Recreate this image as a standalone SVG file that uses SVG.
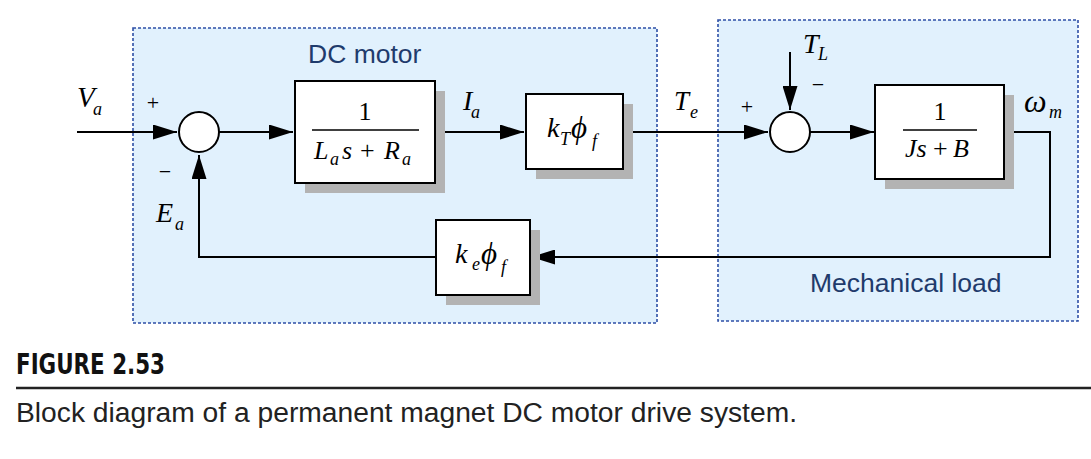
<svg xmlns="http://www.w3.org/2000/svg" width="1091" height="459" viewBox="0 0 1091 459">
<style>
.grp{fill:#e1f1fd;stroke:#2e4fa6;stroke-width:1.6;stroke-dasharray:3 2}
.grptxt{font-family:"Liberation Sans",Arial,sans-serif;font-size:26.5px;fill:#1f3b6c}
.blk{fill:#ffffff;stroke:#000;stroke-width:2}
.shd{fill:#b3b3b3}
.sum{fill:#ffffff;stroke:#000;stroke-width:2}
.ln{fill:none;stroke:#000;stroke-width:2}
.m{font-family:"Liberation Serif","Times New Roman",serif;font-style:italic;font-size:28px;fill:#000}
.s{font-family:"Liberation Serif","Times New Roman",serif;font-style:italic;font-size:18px;fill:#000}
.r{font-family:"Liberation Serif","Times New Roman",serif;font-size:26px;fill:#000}
.sg{font-family:"Liberation Serif","Times New Roman",serif;font-size:22px;fill:#000;text-anchor:middle}
.fr{stroke:#000;stroke-width:1.3}
</style>
<defs>
<marker id="ah" viewBox="0 0 24 15" refX="24" refY="7.5" markerWidth="24" markerHeight="15" markerUnits="userSpaceOnUse" orient="auto">
<path d="M0,0 L24,7.5 L0,15 Z" fill="#000"/>
</marker>
</defs>
<g id="dc-motor-group">
<rect class="grp" x="133" y="28" width="524" height="295"/>
<text class="grptxt" x="308" y="63">DC motor</text>
</g>
<g id="mech-load-group">
<rect class="grp" x="718" y="20" width="360" height="301"/>
<text class="grptxt" x="810" y="292">Mechanical load</text>
</g>
<g id="connectors">
<line class="ln" x1="77" y1="132" x2="177" y2="132" marker-end="url(#ah)"/>
<line class="ln" x1="219" y1="132" x2="293" y2="132" marker-end="url(#ah)"/>
<line class="ln" x1="435" y1="132" x2="524" y2="132" marker-end="url(#ah)"/>
<line class="ln" x1="623" y1="132" x2="768" y2="132" marker-end="url(#ah)"/>
<line class="ln" x1="810" y1="132" x2="874" y2="132" marker-end="url(#ah)"/>
<line class="ln" x1="790" y1="52" x2="790" y2="110" marker-end="url(#ah)"/>
<polyline class="ln" points="1004,132 1050,132 1050,257 531,257" marker-end="url(#ah)"/>
<polyline class="ln" points="436,257 199,257 199,155" marker-end="url(#ah)"/>
</g>
<g id="sum1">
<circle class="sum" cx="199" cy="132" r="20"/>
<text class="sg" x="153" y="110">+</text>
<text class="sg" x="165" y="179">−</text>
</g>
<g id="sum2">
<circle class="sum" cx="790" cy="132" r="20"/>
<text class="sg" x="747" y="114">+</text>
<text class="sg" x="818" y="92">−</text>
</g>
<g id="armature">
<rect class="shd" x="305" y="91" width="140" height="102"/>
<rect class="blk" x="295" y="81" width="140" height="102"/>
<text class="r" x="365" y="120" text-anchor="middle">1</text>
<line class="fr" x1="312" y1="130" x2="419" y2="130"/>
<text class="m" x="314" y="159" style="font-size:26px">L</text>
<text class="s" x="330" y="165">a</text>
<text class="m" x="342" y="159" style="font-size:26px">s</text>
<text class="r" x="360" y="159">+</text>
<text class="m" x="384" y="159" style="font-size:26px">R</text>
<text class="s" x="402" y="165">a</text>
</g>
<g id="torque-const">
<rect class="shd" x="536" y="104" width="97" height="75"/>
<rect class="blk" x="526" y="94" width="97" height="75"/>
<text class="m" x="547" y="137">k</text>
<text class="s" x="560" y="145">T</text>
<text class="m" x="571" y="138" style="font-size:31px">ϕ</text>
<text class="s" x="592" y="147">f</text>
</g>
<g id="mechanical">
<rect class="shd" x="885" y="95" width="129" height="94"/>
<rect class="blk" x="875" y="85" width="129" height="94"/>
<text class="r" x="940" y="120" text-anchor="middle">1</text>
<line class="fr" x1="903" y1="130" x2="977" y2="130"/>
<text class="m" x="905" y="157" style="font-size:26px">Js</text>
<text class="r" x="933" y="157">+</text>
<text class="m" x="953" y="157" style="font-size:26px">B</text>
</g>
<g id="backemf">
<rect class="shd" x="446" y="230" width="94" height="75"/>
<rect class="blk" x="436" y="220" width="94" height="75"/>
<text class="m" x="455" y="263">k</text>
<text class="s" x="472" y="270">e</text>
<text class="m" x="481" y="264" style="font-size:31px">ϕ</text>
<text class="s" x="501" y="273">f</text>
</g>
<g id="labels">
<text class="m" x="77" y="107" style="font-size:29px">V</text>
<text class="s" x="93" y="115">a</text>
<text class="m" x="156" y="222">E</text>
<text class="s" x="175" y="230">a</text>
<text class="m" x="463" y="110">I</text>
<text class="s" x="471" y="118">a</text>
<text class="m" x="674" y="110" style="font-size:27px">T</text>
<text class="s" x="690" y="118">e</text>
<text class="m" x="803" y="53">T</text>
<text class="s" x="818" y="60">L</text>
<text class="m" x="1024" y="112" style="font-size:32px">ω</text>
<text class="s" x="1049" y="118">m</text>
</g>
<g id="caption">
<text x="16" y="374" font-family="'Liberation Sans Narrow','DejaVu Sans Condensed','Liberation Sans',sans-serif" font-weight="bold" font-size="28" textLength="149" lengthAdjust="spacingAndGlyphs" fill="#111">FIGURE 2.53</text>
<line x1="16" y1="388" x2="1091" y2="388" stroke="#222" stroke-width="2.5"/>
<text x="16" y="422" font-family="'Liberation Sans',Arial,sans-serif" font-size="27" textLength="781" lengthAdjust="spacingAndGlyphs" fill="#222">Block diagram of a permanent magnet DC motor drive system.</text>
</g>
</svg>
